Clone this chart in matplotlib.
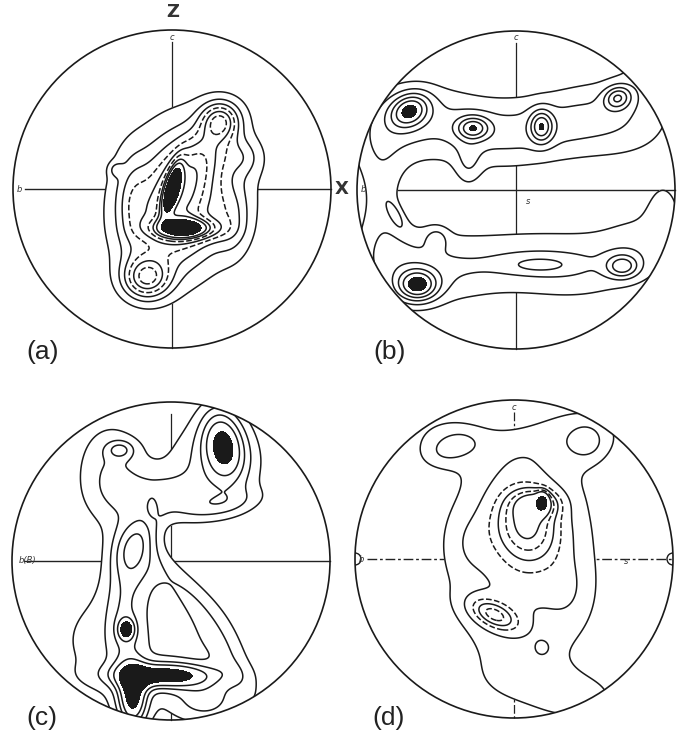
import numpy as np
import matplotlib
matplotlib.use("Agg")
import matplotlib.pyplot as plt
from matplotlib.patches import Circle

# ---------------- data (normalised stereonet coords: u right, v up, radius 1) -------------
# Each density component: centre u, centre v, amplitude, sigma_u, sigma_v, rotation (deg)
a_u   = [0.05, 0.20, 0.30, -0.16, 0.05, 0.00, 0.08, 0.45, -0.35, 0.38, -0.25]
a_v   = [-0.05, 0.22, 0.43, -0.56, -0.10, 0.00, -0.25, 0.20, 0.12, -0.20, -0.10]
a_amp = [1.2, 0.8, 1.5, 1.8, 1.2, 2.4, 2.4, 0.5, 0.5, 0.6, 0.6]
a_su  = [0.28, 0.10, 0.08, 0.10, 0.16, 0.03, 0.13, 0.08, 0.03, 0.08, 0.07]
a_sv  = [0.36, 0.20, 0.08, 0.09, 0.25, 0.11, 0.045, 0.08, 0.03, 0.15, 0.2]
a_ang = [-20, -35, 0, 0, -15, -15, 0, 0, 0, 0, 0]
a_levels = [0.35, 0.7, 1.05, 1.4, 1.75, 2.1, 2.45, 2.8]
a_fill = 3.3

b_u   = [-0.85, -0.50, -0.10, 0.30, 0.70, -0.80, -0.45, 0.00, 0.40, 0.80, -0.85, 0.93,
         -0.67, -0.27, 0.16, 0.64, -0.62, 0.67, 0.15, -0.76, -0.50, -0.30, 0.90]
b_v   = [0.35, 0.45, 0.35, 0.42, 0.45, -0.45, -0.50, -0.45, -0.48, -0.35, -0.05, -0.12,
         0.50, 0.39, 0.40, 0.58, -0.60, -0.48, -0.47, -0.15, -0.30, 0.15, 0.80]
b_amp = [0.7, 0.7, 0.7, 0.7, 0.7, 0.7, 0.7, 0.65, 0.7, 0.6, 0.5, 0.55,
         1.8, 1.5, 1.5, 1.4, 2.0, 1.3, 0.6, 0.55, 0.55, 0.5, 0.6]
b_su  = [0.20, 0.25, 0.25, 0.25, 0.25, 0.20, 0.25, 0.25, 0.25, 0.20, 0.10, 0.08,
         0.09, 0.07, 0.05, 0.06, 0.09, 0.07, 0.12, 0.025, 0.05, 0.06, 0.15]
b_sv  = [0.20, 0.18, 0.17, 0.17, 0.20, 0.20, 0.18, 0.15, 0.17, 0.18, 0.25, 0.14,
         0.07, 0.05, 0.07, 0.05, 0.07, 0.05, 0.03, 0.07, 0.05, 0.10, 0.15]
b_ang = [-20, -15, 0, 10, 0, 0, 0, 0, 0, 0, 0, 0,
         30, 0, 0, 20, 0, 0, 0, 30, 0, 0, 0]
b_levels = [0.5, 0.9, 1.3, 1.7, 2.1]
b_fill = 2.5

c_u   = [-0.38, 0.28, -0.05, 0.33, -0.32, -0.12, -0.20, 0.30,
         -0.15, -0.30, 0.22, 0.09, -0.28, -0.04, -0.24, 0.22, -0.20]
c_v   = [0.55, 0.62, 0.42, 0.74, 0.70, 0.34, 0.15, 0.35,
         -0.50, -0.30, -0.42, -0.35, -0.43, -0.72, -0.86, -0.88, -0.02]
c_amp = [0.9, 1.0, 0.7, 1.7, 0.8, -0.4, 0.9, 0.6,
         0.8, 0.7, 0.7, -0.3, 1.4, 2.0, 2.0, 0.8, 0.8]
c_su  = [0.17, 0.22, 0.20, 0.09, 0.06, 0.03, 0.08, 0.20,
         0.48, 0.08, 0.07, 0.06, 0.035, 0.22, 0.065, 0.15, 0.10]
c_sv  = [0.25, 0.22, 0.10, 0.16, 0.04, 0.06, 0.14, 0.06,
         0.33, 0.30, 0.35, 0.17, 0.045, 0.055, 0.14, 0.10, 0.15]
c_ang = [0, 0, 0, 10, 0, 0, -30, 10,
         0, 0, 35, 45, 0, 0, 0, 0, 20]
c_levels = [0.5, 0.9, 1.3, 1.7]
c_fill = 2.2

d_u   = [0.05, 0.00, -0.05, -0.40, 0.46, 0.08, 0.15, 0.18, -0.13, 0.18, 0.05, 0.35,
         -0.30, 0.45]
d_v   = [0.00, 0.80, 0.98, 0.70, 0.74, 0.22, 0.35, 0.36, -0.35, -0.56, -0.75, -0.20,
         0.10, -0.88]
d_amp = [1.0, 0.5, -0.8, 0.6, 0.6, 1.4, 1.0, 1.5, 1.3, 0.4, 0.2, 0.3, 0.3, 0.45]
d_su  = [0.36, 0.65, 0.20, 0.12, 0.08, 0.15, 0.10, 0.025, 0.12, 0.04, 0.20, 0.10,
         0.10, 0.22]
d_sv  = [0.62, 0.15, 0.15, 0.07, 0.08, 0.18, 0.06, 0.04, 0.06, 0.04, 0.10, 0.15,
         0.15, 0.12]
d_ang = [0, 0, 0, 20, 0, 20, 0, 0, -25, 0, 0, 0, 0, 0]
d_levels = [0.5, 0.9, 1.3, 1.6, 1.9, 2.2]
d_fill = 3.2

panel_labels = ["(a)", "(b)", "(c)", "(d)"]

# ---------------- layout (pixel space) ----------------
W, H = 681, 738
R = 159
centers = [(172, 189), (516, 190), (171, 561), (514, 559)]

fig = plt.figure(figsize=(W / 100, H / 100), dpi=100)
ax = fig.add_axes([0, 0, 1, 1])
ax.set_xlim(0, W)
ax.set_ylim(H, 0)
ax.axis("off")

g = np.linspace(-1.03, 1.03, 420)
GU, GV = np.meshgrid(g, g)


def field(us, vs, amps, sus, svs, angs):
    F = np.zeros_like(GU)
    for u0, v0, A, su, sv, ang in zip(us, vs, amps, sus, svs, angs):
        t = np.deg2rad(ang)
        du, dv = GU - u0, GV - v0
        pu = du * np.cos(t) + dv * np.sin(t)
        pv = -du * np.sin(t) + dv * np.cos(t)
        F += A * np.exp(-0.5 * ((pu / su) ** 2 + (pv / sv) ** 2))
    return F


def panel(idx, comps, levels, fill, dashed=(), cross_dashed=False):
    cx, cy = centers[idx]
    X = cx + R * GU
    Y = cy - R * GV
    F = field(*comps)
    clip = Circle((cx, cy), R, transform=ax.transData)
    ls = (0, (7, 2, 2, 2)) if cross_dashed else "-"
    ax.plot([cx - R + 12, cx + R], [cy, cy], color="#222222", lw=1.0, ls=ls, zorder=1)
    ax.plot([cx, cx], [cy - R + 12, cy + R], color="#222222", lw=0.9, ls=ls, zorder=1)
    cw = ax.contourf(X, Y, F, levels=[levels[0], 1e9], colors="white", zorder=2)
    cw.set_clip_path(clip)
    cf = ax.contourf(X, Y, F, levels=[fill, 1e9], colors="#1a1a1a", zorder=3)
    cf.set_clip_path(clip)
    styles = ["dashed" if i in dashed else "solid" for i in range(len(levels))]
    cl = ax.contour(X, Y, F, levels=levels, colors="#1a1a1a", linewidths=1.1,
                    linestyles=styles, zorder=4)
    cl.set_clip_path(clip)
    ax.add_patch(Circle((cx, cy), R, fill=False, ec="#1a1a1a", lw=1.2, zorder=5))


panel(0, (a_u, a_v, a_amp, a_su, a_sv, a_ang), a_levels, a_fill, dashed=(3, 5))
panel(1, (b_u, b_v, b_amp, b_su, b_sv, b_ang), b_levels, b_fill)
panel(2, (c_u, c_v, c_amp, c_su, c_sv, c_ang), c_levels, c_fill)
panel(3, (d_u, d_v, d_amp, d_su, d_sv, d_ang), d_levels, d_fill, dashed=(2, 4),
      cross_dashed=True)

# small semicircles at the ends of the b-s line in (d)
for sx in (-1, 1):
    cx, cy = centers[3]
    sc = Circle((cx + sx * R, cy), 6, fill=False, ec="#1a1a1a", lw=1.0, zorder=5)
    ax.add_patch(sc)
    sc.set_clip_path(Circle((cx, cy), R, transform=ax.transData))

# small axis letters
small = dict(fontsize=6, style="italic", color="#333333", ha="center", va="center", zorder=6)
for (cx, cy), lab in zip(centers, ["b", "b", "b(B)", "b"]):
    ax.text(cx - R + (16 if lab == "b(B)" else 6), cy, lab, **small)
for (cx, cy) in [centers[0], centers[1], centers[3]]:
    ax.text(cx, cy - R + 7, "c", **small)
ax.text(centers[1][0] + 12, centers[1][1] + 12, "s", **small)
ax.text(centers[3][0] + 112, centers[3][1] + 2, "s", **small)

# big labels
big = dict(fontsize=19, family="Liberation Sans", color="#222222", ha="center", va="center")
label_pos = [(43, 352), (390, 352), (42, 718), (389, 718)]
for (x, y), lab in zip(label_pos, panel_labels):
    ax.text(x, y, lab, **big)
ax.text(173, 12, "Z", fontsize=13, fontweight="bold", family="DejaVu Sans",
        color="#333333", ha="center", va="center")
ax.text(342, 189, "X", fontsize=13, fontweight="bold", family="DejaVu Sans",
        color="#333333", ha="center", va="center")

fig.savefig("out.png", dpi=100, facecolor="white")
